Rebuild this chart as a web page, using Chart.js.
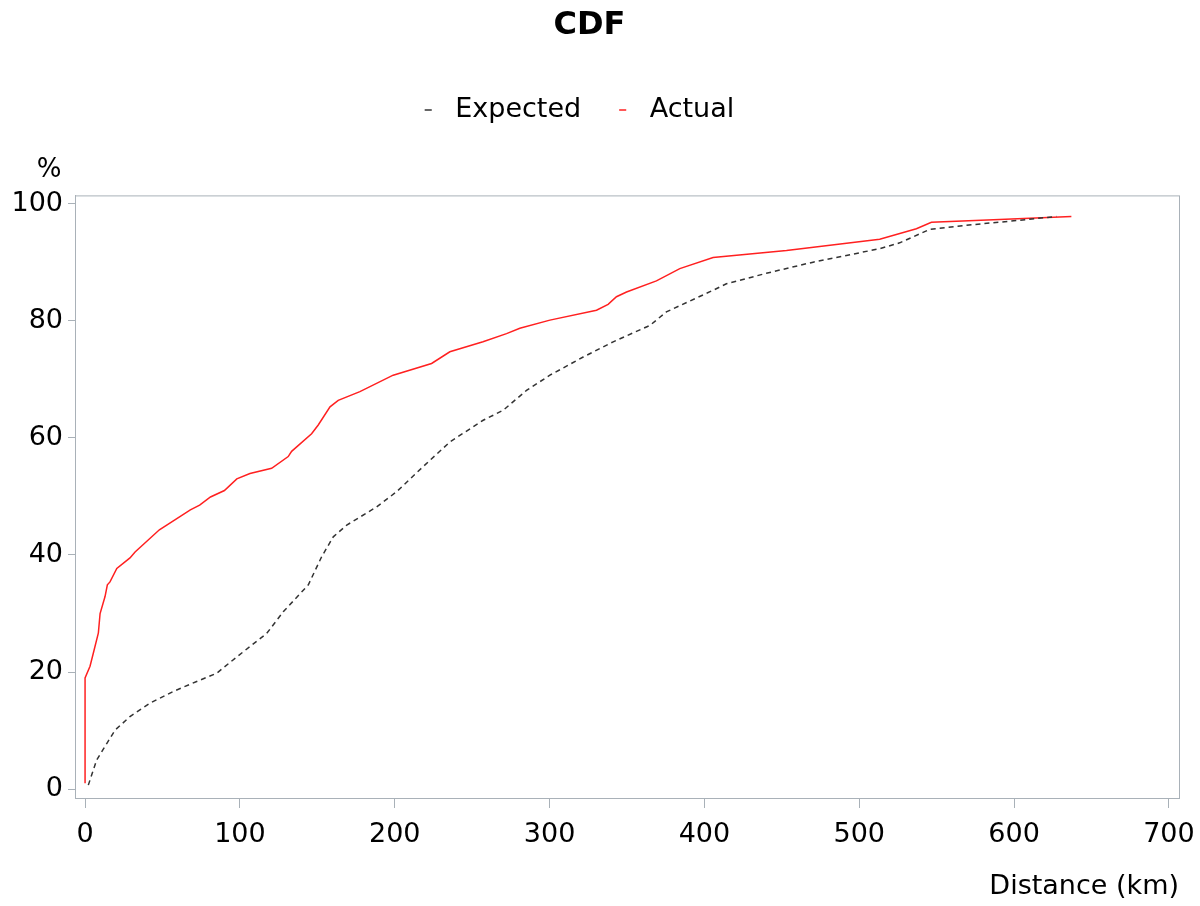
<!DOCTYPE html>
<html>
<head>
<meta charset="utf-8">
<script src="https://cdn.jsdelivr.net/npm/chart.js@4"></script>
<style>
  html, body { margin: 0; padding: 0; background: #fff; }
  #wrap { width: 1200px; height: 906px; }
</style>
</head>
<body>
<div id="wrap"><canvas id="canvas"></canvas></div>
<script>
// distance (km) / cumulative %
const expectedX = [2.1, 7.5, 14, 19.4, 29, 42, 57, 72.1, 85, 98, 117.3, 128, 144.2, 152.8, 160.3, 169, 188.3, 201.2, 218.4, 235.6, 257.1, 270, 285.1, 300.2, 321.7, 341.1, 364.8, 375.4, 405.6, 414.2, 440, 470.2, 513.2, 526.1, 545.5, 569.1, 601.5, 627.3];
const expectedY = [0.7, 5, 7.8, 10.1, 12.4, 14.7, 16.7, 18.4, 19.8, 22.6, 26.6, 30.3, 34.9, 39.7, 43.1, 45.1, 48.2, 50.8, 55.1, 59.3, 63, 64.7, 68.1, 70.7, 73.8, 76.4, 79.2, 81.5, 85.2, 86.3, 88.1, 90, 92.3, 93.3, 95.6, 96.3, 97.1, 97.8];

const actualX = [0, 0, 3.2, 5.4, 8.6, 9.7, 12.9, 14.4, 16.1, 20.5, 29, 32.3, 48, 58, 68, 74, 81, 90, 98, 106.5, 120.5, 131.2, 133.4, 146.3, 150.6, 158.2, 163.5, 177.5, 199, 223.8, 235.6, 257, 272.2, 280.8, 300.2, 330.3, 337.8, 343.2, 349.7, 369, 384.1, 405.6, 453, 513.2, 536.9, 546.6, 590.7, 637];
const actualY = [1, 19, 21, 23.3, 26.7, 30, 32.9, 34.9, 35.4, 37.7, 39.5, 40.5, 44.3, 46, 47.7, 48.5, 49.9, 51, 53, 53.9, 54.8, 56.8, 57.7, 60.7, 62.2, 65.3, 66.4, 67.9, 70.7, 72.7, 74.7, 76.4, 77.8, 78.7, 80.1, 81.8, 82.8, 84.1, 84.9, 86.8, 88.9, 90.8, 92, 93.9, 95.7, 96.8, 97.3, 97.8];

const xTicks = [0, 100, 200, 300, 400, 500, 600, 700];
const yTicks = [0, 20, 40, 60, 80, 100];

const axisColor = '#a9b1b8';
const font = 'DejaVu Sans, sans-serif';

function pairs(xs, ys) {
  return xs.map((x, i) => ({ x: x, y: ys[i] }));
}

// frame round the plot, "%" label, and extra room under the legend
const frame = {
  id: 'frame',
  beforeLayout(chart) {
    const lg = chart.legend;
    if (lg && !lg._padded) {
      const fit = lg.fit;
      lg.fit = function () { fit.call(this); this.height += 62; };
      lg._padded = true;
    }
  },
  afterLayout(chart) {
    // legend sits a little left of the page centre
    if (chart.legend) { chart.legend.left -= 15; chart.legend.right -= 15; }
  },
  afterDraw(chart) {
    const a = chart.chartArea;
    const c = chart.ctx;
    c.save();
    c.strokeStyle = axisColor;
    c.lineWidth = 1;
    c.strokeRect(a.left + 0.5, a.top + 0.5, a.right - a.left, a.bottom - a.top);
    c.fillStyle = '#000';
    c.font = '26px ' + font;
    c.textAlign = 'center';
    c.textBaseline = 'middle';
    c.fillText('%', 49, 170);
    c.restore();
  }
};

new Chart(document.getElementById('canvas'), {
  type: 'line',
  data: {
    datasets: [{
      label: 'Expected',
      data: pairs(expectedX, expectedY),
      borderColor: '#333',
      backgroundColor: '#333',
      borderWidth: 1.5,
      borderDash: [5, 4],
      pointRadius: 0,
      tension: 0
    }, {
      label: 'Actual',
      data: pairs(actualX, actualY),
      borderColor: '#ff2020',
      backgroundColor: '#ff2020',
      borderWidth: 1.5,
      pointRadius: 0,
      tension: 0
    }]
  },
  options: {
    responsive: true,
    maintainAspectRatio: false,
    animation: false,
    layout: { padding: { top: 0, right: 21, left: 0, bottom: 0 } },
    plugins: {
      title: {
        display: true,
        text: 'CDF',
        color: '#000',
        font: { family: font, size: 32, weight: 'bold' },
        padding: { top: 6, bottom: 24 }
      },
      legend: {
        labels: {
          color: '#000',
          font: { family: font, size: 27 },
          usePointStyle: true,
          pointStyle: 'line',
          boxHeight: 5,
          boxWidth: 27,
          padding: 28,
          generateLabels(chart) {
            return chart.data.datasets.map((ds, i) => ({
              text: ds.label,
              strokeStyle: ds.borderColor,
              fillStyle: ds.borderColor,
              lineWidth: 1.5,
              pointStyle: 'line',
              datasetIndex: i
            }));
          }
        }
      },
      tooltip: { enabled: false }
    },
    scales: {
      x: {
        type: 'linear',
        min: -6.5,
        max: 706.5,
        afterBuildTicks(scale) { scale.ticks = xTicks.map(v => ({ value: v })); },
        afterFit(scale) { scale.height = 108; scale.paddingRight = 21; },
        grid: { drawOnChartArea: false, drawTicks: true, tickLength: 10, color: axisColor },
        border: { display: true, color: axisColor },
        ticks: { color: '#000', font: { family: font, size: 27 }, padding: 11, maxRotation: 0 },
        title: {
          display: true,
          text: 'Distance (km)',
          align: 'end',
          color: '#000',
          font: { family: font, size: 27 },
          padding: { top: 8, bottom: 3 }
        }
      },
      y: {
        min: -1.5,
        max: 101.4,
        afterBuildTicks(scale) { scale.ticks = yTicks.map(v => ({ value: v })); },
        afterFit(scale) { scale.width = 75; },
        grid: { drawOnChartArea: false, drawTicks: true, tickLength: 7, color: axisColor },
        border: { display: true, color: axisColor },
        ticks: { color: '#000', font: { family: font, size: 27 }, padding: 5 }
      }
    }
  },
  plugins: [frame]
});
</script>
</body>
</html>
